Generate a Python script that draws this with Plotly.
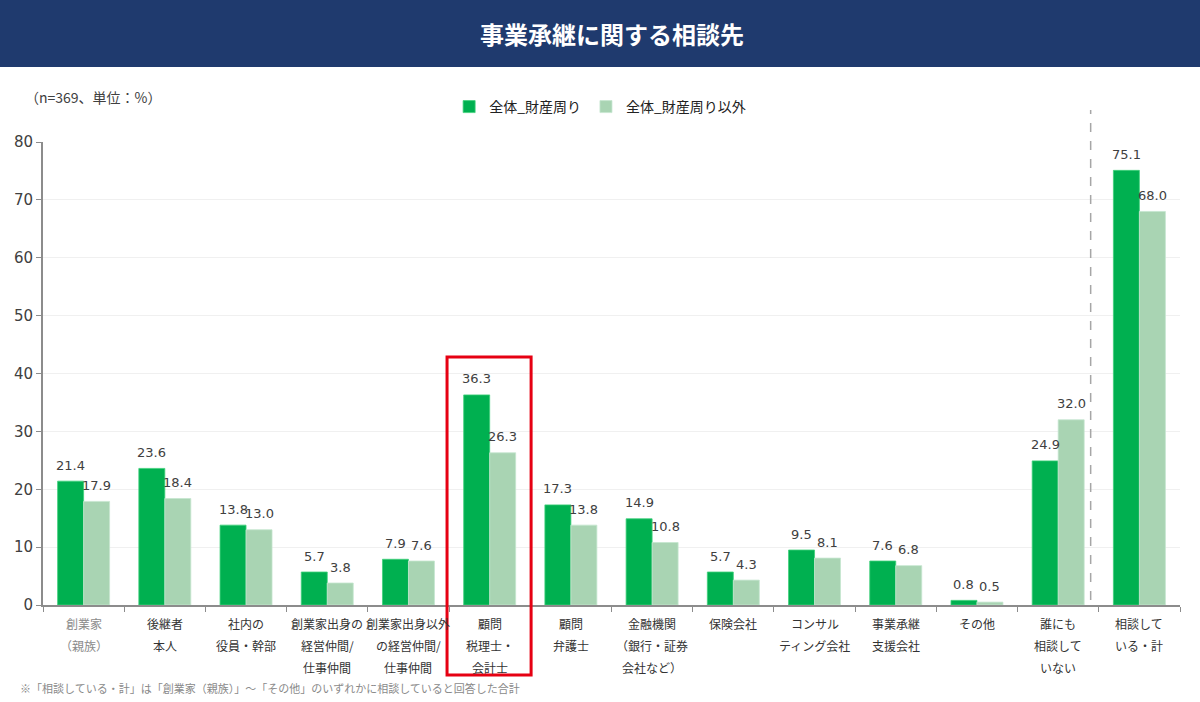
import plotly.graph_objects as go

categories = [
    ["創業家", "（親族）"],
    ["後継者", "本人"],
    ["社内の", "役員・幹部"],
    ["創業家出身の", "経営仲間/", "仕事仲間"],
    ["創業家出身以外", "の経営仲間/", "仕事仲間"],
    ["顧問", "税理士・", "会計士"],
    ["顧問", "弁護士"],
    ["金融機関", "（銀行・証券", "会社など）"],
    ["保険会社"],
    ["コンサル", "ティング会社"],
    ["事業承継", "支援会社"],
    ["その他"],
    ["誰にも", "相談して", "いない"],
    ["相談して", "いる・計"],
]
series_names = ["全体_財産周り", "全体_財産周り以外"]
values_a = [21.4, 23.6, 13.8, 5.7, 7.9, 36.3, 17.3, 14.9, 5.7, 9.5, 7.6, 0.8, 24.9, 75.1]
values_b = [17.9, 18.4, 13.0, 3.8, 7.6, 26.3, 13.8, 10.8, 4.3, 8.1, 6.8, 0.5, 32.0, 68.0]
y_ticks = [0, 10, 20, 30, 40, 50, 60, 70, 80]

FONT = "Noto Sans CJK JP"
NUMFONT = "DejaVu Sans"
DARK = "#00B050"
LIGHT = "#A9D4B3"
TXT = "#404040"

n = len(categories)
xs = list(range(n))

fig = go.Figure()
fig.add_trace(go.Bar(x=xs, y=values_a, name=series_names[0], marker=dict(color=DARK, line=dict(color="#3fd07a", width=0.8))))
fig.add_trace(go.Bar(x=xs, y=values_b, name=series_names[1], marker=dict(color=LIGHT, line=dict(color="#c5e6cf", width=0.8))))

ann = []
# value labels
for i in xs:
    ann.append(dict(x=i, y=values_a[i], xref="x", yref="y", text=f"{values_a[i]:.1f}", showarrow=False,
                    xshift=-13, yshift=16, font=dict(size=13, color=TXT, family=NUMFONT)))
    ann.append(dict(x=i, y=values_b[i], xref="x", yref="y", text=f"{values_b[i]:.1f}", showarrow=False,
                    xshift=13, yshift=16, font=dict(size=13, color=TXT, family=NUMFONT)))

# category labels (multi-line)
line_y = [-0.039, -0.0864, -0.134]
for i, lines in enumerate(categories):
    col = "#8a8a8a" if i == 0 else "#333333"
    for j, t in enumerate(lines):
        ann.append(dict(x=i, y=line_y[j], xref="x", yref="paper", text=t, showarrow=False,
                        yanchor="middle", font=dict(size=12, color=col, family=FONT)))

# title / notes
ann.append(dict(x=0.5, xref="paper", y=1.2354, yref="paper", text="<b>事業承継に関する相談先</b>", showarrow=False,
                font=dict(size=24, color="white", family=FONT), yanchor="middle"))
ann.append(dict(x=-0.018, xref="paper", y=1.097, yref="paper", text="（n=369、単位：%）", showarrow=False,
                xanchor="left", yanchor="middle", font=dict(size=14, color=TXT, family=FONT)))
ann.append(dict(x=-0.022, xref="paper", y=-0.179, yref="paper",
                text="※「相談している・計」は「創業家（親族）」～「その他」のいずれかに相談していると回答した合計",
                showarrow=False, xanchor="left", yanchor="middle", font=dict(size=11, color="#8a8a8a", family=FONT)))

shapes = [
    dict(type="rect", xref="paper", yref="paper", x0=-0.05, x1=1.05, y0=1.162, y1=1.32,
         fillcolor="#1F3A6E", line=dict(width=0), layer="below"),
    dict(type="line", xref="paper", yref="paper", x0=(12.4 + 0.5) / n, x1=(12.4 + 0.5) / n, y0=0.011, y1=1.069,
         line=dict(color="#A6A6A6", width=1.5, dash="dash")),
    dict(type="rect", xref="paper", yref="paper", x0=(4.475 + 0.5) / n, x1=(5.51 + 0.5) / n, y0=-0.151, y1=0.5356,
         line=dict(color="#E60012", width=3), fillcolor="rgba(0,0,0,0)"),
]

fig.update_layout(
    width=1200, height=702,
    margin=dict(l=43, r=20, t=142, b=97),
    paper_bgcolor="white", plot_bgcolor="white",
    barmode="group", bargap=0.36, bargroupgap=0,
    font=dict(family=FONT, color=TXT),
    legend=dict(orientation="h", x=0.49, xanchor="center", y=1.0756, yanchor="middle",
                font=dict(size=14, color="#222222", family=FONT), itemwidth=30, traceorder="normal",
                bgcolor="rgba(0,0,0,0)"),
    annotations=ann, shapes=shapes,
    xaxis=dict(range=[-0.5, n - 0.5], tickvals=[i - 0.5 for i in range(n + 1)], showticklabels=False,
               ticks="outside", ticklen=5, tickcolor="#8c8c8c", showline=True, linecolor="#8c8c8c",
               linewidth=2, showgrid=False, zeroline=False, fixedrange=True),
    yaxis=dict(range=[0, 80], tickvals=y_ticks, ticks="outside", ticklen=5, tickcolor="#8c8c8c",
               showline=True, linecolor="#8c8c8c", linewidth=2, gridcolor="#F0F0F0", zeroline=False,
               tickfont=dict(size=15, color=TXT, family=NUMFONT), fixedrange=True),
    showlegend=True,
)

fig.write_html("out.html")
